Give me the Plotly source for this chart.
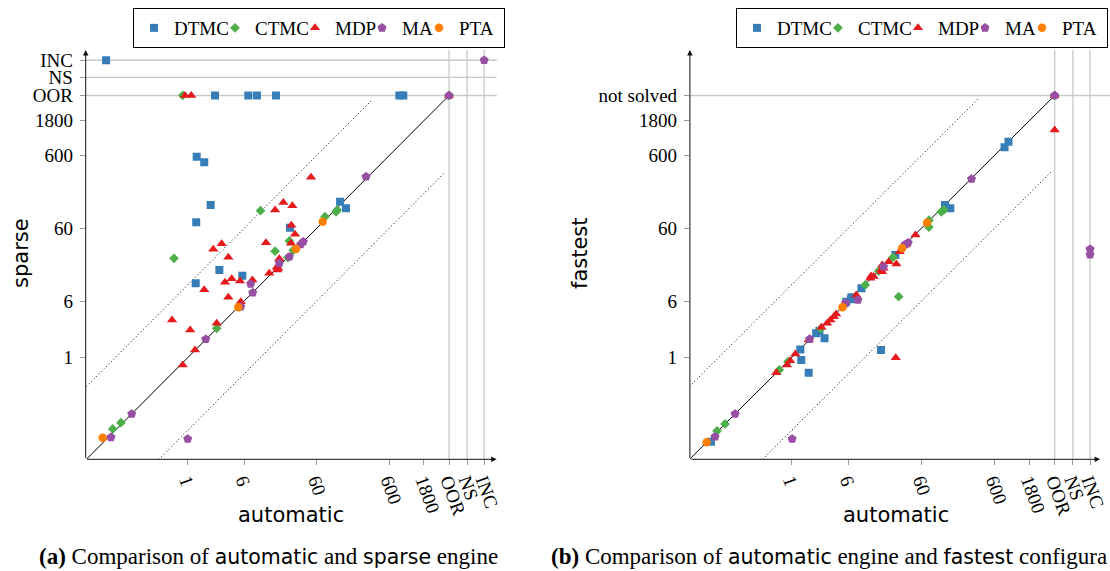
import plotly.graph_objects as go

# ---------------- data ----------------
TYPES = ["DTMC", "CTMC", "MDP", "MA", "PTA"]
# special outcome categories placed beyond the 1800 s timeout on the log axes
SPECIAL = {"OOR": 4000.0, "NS": 7100.0, "INC": 12200.0}

TICK_VALS = [1, 6, 60, 600, 1800]
TICK_TEXT = ["1", "6", "60", "600", "1800"]

# (a) automatic (x) vs sparse (y)
A_DTMC_AUTO = [0.075, 2.38, 6.84, 9.0, 16.5, 826, 937, 1.33, 1.69, 2.07, 1.31, 25.7, 126, 152, 2.73, 5.66, 1.29]
A_DTMC_SPARSE = ["INC", "OOR", "OOR", "OOR", "OOR", "OOR", "OOR", 577, 483, 125, 72.4, 61, 139, 113, 16.0, 13.4, 10.5]

A_CTMC_AUTO = [0.853, "OOR", 10.1, 16.0, 0.647, 25.2, 24.1, 78, 111, 115, 28.5, 2.51, 0.0925, 0.12]
A_CTMC_SPARSE = ["OOR", "OOR", 104.5, 29.1, 23.2, 40.1, 23.7, 86.5, 101, 107, 30.0, 2.53, 0.105, 0.128]

A_MDP_AUTO = [0.918, 1.12, "OOR", 50.1, 20.8, 27.7, 16.0, 26.8, 30.1, 26.5, 12.0, 2.25, 2.94, 3.63, 18.3,
              16.9, 13.3, 17.7, 17.2, 4.04, 3.27, 5.26, 7.77, 1.69, 3.63, 5.38, 0.608, 1.08, 2.51, 1.26, 0.853]
A_MDP_SPARSE = ["OOR", "OOR", "OOR", 301, 136, 122, 107, 65.9, 49.5, 37.3, 38.0, 30.8, 36.8, 23.9, 22.9,
                17.5, 14.4, 16.9, 16.0, 12.1, 10.9, 11.3, 11.7, 8.59, 6.76, 5.88, 3.30, 2.40, 2.97, 1.28, 0.794]

A_MA_AUTO = ["INC", "OOR", 287, 39.2, 36, 25.2, 18.3, 7.38, 7.87, 5.38, 1.77, 0.169, 0.0877, 1.0]
A_MA_SPARSE = ["INC", "OOR", 306, 39.2, 36, 24.4, 19.8, 10.3, 7.81, 5.02, 1.79, 0.169, 0.0806, 0.0764]

A_PTA_AUTO = [0.0674, 4.99, 31.1, 72.6]
A_PTA_SPARSE = [0.0796, 4.92, 31.1, 73.8]

# (b) automatic (x) vs fastest configuration (y); "not solved" shares the OOR position
B_DTMC_AUTO = [0.079, 1.32, 1.36, 1.72, 2.17, 2.41, 2.83, 5.61, 6.5, 6.63, 9.07, 16.8, 26.4, 126, 149, 824, 933]
B_DTMC_FAST = [0.070, 1.30, 0.93, 0.622, 2.16, 2.33, 1.85, 5.88, 6.34, 6.76, 8.98, 1.28, 25.7, 125, 113, 776, 927]

B_CTMC_AUTO = [0.0957, 0.123, 0.68, 0.895, 2.51, 10.2, 15.6, 24.5, 29.3, 76, 76, 112, 122, "OOR"]
B_CTMC_FAST = [0.0985, 0.123, 0.678, 0.88, 2.5, 9.97, 15.5, 23.9, 6.89, 77.5, 62.4, 101, 107, "OOR"]

B_MDP_AUTO = [0.618, 0.867, 0.96, 1.13, 1.72, 2.57, 3.07, 3.41, 3.80, 4.08, 7.69, 12.0, 12.3, 13.3, 16.8, 17.3,
              18.2, 17.5, 21.4, 27.2, 30.2, 36.2, 49.7, 26.7, "OOR", "OOR"]
B_MDP_FAST = [0.622, 0.794, 0.91, 1.12, 1.75, 2.62, 2.97, 3.30, 3.66, 3.98, 7.26, 12.3, 13.3, 13.0, 16.0, 15.2,
              16.9, 18.8, 20.8, 19.4, 28.6, 35.3, 48.5, 1.0, 1342, "OOR"]

B_MA_AUTO = [0.0898, 0.169, 1.02, 1.77, 5.48, 8.11, 18.2, 36, 39.5, 291, "OOR", "INC", "INC"]
B_MA_FAST = [0.0822, 0.169, 0.0764, 1.8, 5.58, 6.2, 17.8, 36, 38.0, 285, "OOR", 30.8, 26.0]

B_PTA_AUTO = [0.069, 4.99, 32.6, 72]
B_PTA_FAST = [0.0689, 4.92, 31.8, 71.5]

# reference lines: equality and factor-10 bands
EQ_LINE = [0.04, "OOR"]
BAND_LO = [0.04, 355]
BAND_HI = [0.4, 3550]

# ---------------- style ----------------
COLORS = {"DTMC": "#377eb8", "CTMC": "#4daf4a", "MDP": "#e41a1c", "MA": "#984ea3", "PTA": "#ff7f00"}
SYMBOLS = {"DTMC": "square", "CTMC": "diamond", "MDP": "triangle-up", "MA": "pentagon", "PTA": "circle"}
SIZES = {"DTMC": 8, "CTMC": 7.5, "MDP": 9, "MA": 9.5, "PTA": 8.5}
# legend entry widths so that the entries sit close together as in the original
LEG_W = {"DTMC": 36, "CTMC": 35, "MDP": 22, "MA": 12, "PTA": 40}

SERIF = "Liberation Serif"
SANS = "DejaVu Sans"
W, H = 1110, 571


def pos(values):
    return [SPECIAL[v] if isinstance(v, str) else v for v in values]


fig = go.Figure()

series_a = {
    "DTMC": (A_DTMC_AUTO, A_DTMC_SPARSE), "CTMC": (A_CTMC_AUTO, A_CTMC_SPARSE),
    "MDP": (A_MDP_AUTO, A_MDP_SPARSE), "MA": (A_MA_AUTO, A_MA_SPARSE), "PTA": (A_PTA_AUTO, A_PTA_SPARSE),
}
series_b = {
    "DTMC": (B_DTMC_AUTO, B_DTMC_FAST), "CTMC": (B_CTMC_AUTO, B_CTMC_FAST),
    "MDP": (B_MDP_AUTO, B_MDP_FAST), "MA": (B_MA_AUTO, B_MA_FAST), "PTA": (B_PTA_AUTO, B_PTA_FAST),
}

# reference lines first (below markers)
for xa, ya in (("x", "y"), ("x2", "y2")):
    fig.add_trace(go.Scatter(x=pos(EQ_LINE), y=pos(EQ_LINE), mode="lines", xaxis=xa, yaxis=ya,
                             line=dict(color="black", width=1), showlegend=False, hoverinfo="skip"))
    fig.add_trace(go.Scatter(x=BAND_LO, y=BAND_HI, mode="lines", xaxis=xa, yaxis=ya,
                             line=dict(color="black", width=1, dash="1px,2.5px"), showlegend=False, hoverinfo="skip"))
    fig.add_trace(go.Scatter(x=BAND_HI, y=BAND_LO, mode="lines", xaxis=xa, yaxis=ya,
                             line=dict(color="black", width=1, dash="1px,2.5px"), showlegend=False, hoverinfo="skip"))

for series, xa, ya, leg in ((series_a, "x", "y", "legend"), (series_b, "x2", "y2", "legend2")):
    for t in TYPES:
        xs, ys = series[t]
        fig.add_trace(go.Scatter(
            x=pos(xs), y=pos(ys), mode="markers", name=t, xaxis=xa, yaxis=ya, legend=leg,
            legendwidth=LEG_W[t],
            marker=dict(symbol=SYMBOLS[t], size=SIZES[t], color=COLORS[t], line=dict(width=0)),
        ))

tickfont = dict(family=SERIF, size=19, color="black")
xrange_a = [-1.406, 4.259]
xrange_b = [-1.391, 4.224]
yrange = [-1.396, 4.227]
ydom = [1 - 459.3 / H, 1 - 50 / H]

xcommon = dict(type="log", tickvals=TICK_VALS + [SPECIAL["OOR"], SPECIAL["NS"], SPECIAL["INC"]],
               ticktext=TICK_TEXT + ["OOR", "NS", "INC"], tickangle=70, ticks="outside", ticklen=5,
               tickcolor="#9a9a9a", tickwidth=1, showgrid=False, zeroline=False, showline=False,
               tickfont=tickfont, ticklabelstandoff=-3)
ycommon = dict(type="log", range=yrange, domain=ydom, ticks="outside", ticklen=5, tickcolor="#9a9a9a",
               tickwidth=1, showgrid=False, zeroline=False, showline=False, tickfont=tickfont,
               ticklabelstandoff=3)

legend_common = dict(orientation="h", y=1 - 8 / H, yanchor="top", xanchor="center",
                     bgcolor="white", bordercolor="black", borderwidth=1,
                     font=dict(family=SERIF, size=19, color="black"), itemclick=False)

fig.update_layout(
    width=W, height=H, margin=dict(l=0, r=0, t=0, b=0, autoexpand=False),
    paper_bgcolor="white", plot_bgcolor="white",
    xaxis=dict(xcommon, domain=[85.7 / W, 496.7 / W], range=xrange_a, anchor="y"),
    yaxis=dict(ycommon, anchor="x",
               tickvals=TICK_VALS + [SPECIAL["OOR"], SPECIAL["NS"], SPECIAL["INC"]],
               ticktext=TICK_TEXT + ["OOR", "NS", "INC"]),
    xaxis2=dict(xcommon, domain=[689.9 / W, 1100.1 / W], range=xrange_b, anchor="y2"),
    yaxis2=dict(ycommon, anchor="x2",
                tickvals=TICK_VALS + [SPECIAL["OOR"]], ticktext=TICK_TEXT + ["not solved"]),
    legend=dict(legend_common, x=319 / W),
    legend2=dict(legend_common, x=922 / W),
    showlegend=True,
)

# grid lines for the special outcome categories
grid = dict(color="#c9c9c9", width=1.3)
for xa, ya, hlines, hend in (("x", "y", ["OOR", "NS", "INC"], 1.0), ("x2", "y2", ["OOR"], 1.03)):
    for k in ["OOR", "NS", "INC"]:
        fig.add_shape(type="line", xref=xa, yref=ya + " domain", x0=SPECIAL[k], x1=SPECIAL[k], y0=0, y1=1,
                      line=grid, layer="below")
    for k in hlines:
        fig.add_shape(type="line", xref=xa + " domain", yref=ya, x0=0, x1=hend, y0=SPECIAL[k], y1=SPECIAL[k],
                      line=grid, layer="below")

# axis lines with arrow heads
for xa, ya in (("x", "y"), ("x2", "y2")):
    fig.add_annotation(xref=xa + " domain", yref=ya + " domain", x=1.0, y=0, axref=xa + " domain",
                       ayref=ya + " domain", ax=0, ay=0, text="", showarrow=True, arrowhead=2,
                       arrowsize=1.1, arrowwidth=1, arrowcolor="#111111")
    fig.add_annotation(xref=xa + " domain", yref=ya + " domain", x=0, y=1.0, axref=xa + " domain",
                       ayref=ya + " domain", ax=0, ay=0, text="", showarrow=True, arrowhead=2,
                       arrowsize=1.1, arrowwidth=1, arrowcolor="#111111")

# axis titles
title_font = dict(family=SANS, size=21, color="black")
for txt, x, y, ang in (("automatic", 291, 515, 0), ("automatic", 895.5, 515, 0),
                       ("sparse", 21, 253, -90), ("fastest", 580, 253, -90)):
    fig.add_annotation(text=txt, xref="paper", yref="paper", x=x / W, y=1 - y / H, textangle=ang,
                       xanchor="center", yanchor="middle", showarrow=False, font=title_font)

# sub-captions (the second one is cut at the right border in the original)
sans_span = '<span style="font-family:DejaVu Sans;font-size:20.5px">{}</span>'
cap_font = dict(family=SERIF, size=23, color="black")
fig.add_annotation(
    text="<b>(a)</b> Comparison of " + sans_span.format("automatic") + " and " + sans_span.format("sparse")
         + " engine",
    xref="paper", yref="paper", x=37 / W, y=1 - 556 / H, xanchor="left", yanchor="middle",
    showarrow=False, font=cap_font)
fig.add_annotation(
    text="<b>(b)</b> Comparison of " + sans_span.format("automatic") + " engine and "
         + sans_span.format("fastest") + " configura",
    xref="paper", yref="paper", x=549 / W, y=1 - 556 / H, xanchor="left", yanchor="middle",
    showarrow=False, font=cap_font)

fig.write_html("out.html", post_script="document.body.style.margin='0';",
               config={"displayModeBar": False})
